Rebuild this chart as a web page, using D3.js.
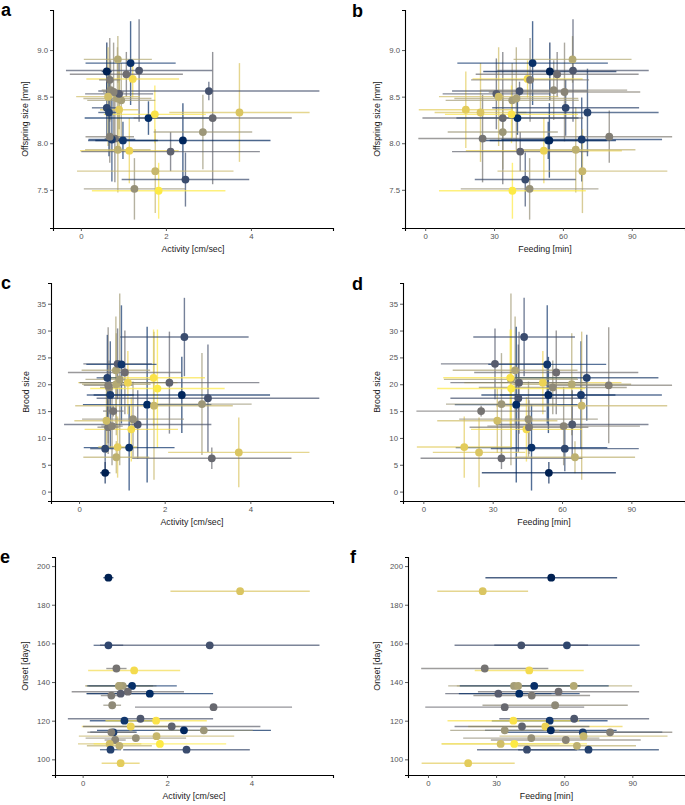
<!DOCTYPE html>
<html>
<head>
<meta charset="utf-8">
<script src="https://cdn.jsdelivr.net/npm/d3@7"></script>
<style>
  body { margin: 0; background: #fff; }
  svg { display: block; font-family: "Liberation Sans", Arial, Helvetica, sans-serif; }
</style>
</head>
<body>
<svg id="chart" width="685" height="805"></svg>
<script>
// ---- data: one entry per individual ----
const onset      = [194,187,159,159,147,146,138,138,138,138,135,134,134,133,128,127,121,120,120,117,117,115,115,114,114,112,111,110,108,108,107,105,105,98];
const activity   = [0.61,3.73,0.61,3.01,0.80,1.22,0.87,0.95,0.86,1.17,1.07,0.90,1.59,0.68,0.70,3.10,1.37,0.99,1.74,1.14,2.11,2.40,2.87,0.73,0.68,1.75,1.26,0.77,0.64,1.83,0.87,0.66,2.46,0.90];
const activitySd = [0.12,1.65,0.35,2.60,0.24,1.09,0.80,0.80,0.80,1.06,1.33,0.80,1.50,0.25,0.21,1.86,1.72,0.82,1.20,1.16,2.10,2.06,1.16,0.55,0.57,1.84,1.19,0.25,0.75,1.57,0.77,0.25,1.50,0.45];
const feeding    = [54.3,24.1,61.2,41.1,25.0,44.6,64.2,37.9,39.7,46.8,57.5,31.0,40.2,45.7,56.0,33.8,64.4,53.6,37.6,51.7,41.4,54.1,33.8,68.2,80.2,68.5,45.5,60.7,32.0,38.0,65.6,70.7,43.6,17.7];
const feedingSd  = [29,20,32,29.4,28,24,25.7,29,27,32.8,35.5,23.4,26.6,25.7,32,35,33,25.5,29,34,29.7,29,24,35,27.4,37,30,33,26,32,26,31,22,20.5];
const offspring  = [8.77,8.33,8.38,8.56,8.05,8.69,8.90,8.46,8.48,8.86,8.74,8.53,8.27,8.68,8.57,8.27,8.78,8.03,8.31,7.92,7.91,8.03,8.12,8.04,8.07,7.70,7.51,8.55,8.50,7.49,7.93,8.33,7.61,8.36];
const offspringSd= [0.31,0.53,0.30,0.10,0.47,0.20,0.25,0.40,0.55,0.45,0.24,0.38,0.18,0.45,0.32,0.71,0.55,0.20,0.31,0.35,0.21,0.40,0.40,0.45,0.28,0.45,0.33,0.53,0.53,0.30,0.46,0.47,0.29,0.41];
const brood      = [3.5,7.3,8.0,17.4,15.0,11.6,20.0,20.9,22.6,8.2,22.2,23.8,16.2,12.0,19.4,6.2,12.5,23.7,21.2,20.3,20.3,18.0,16.3,18.0,19.8,16.0,13.5,12.2,13.2,19.2,6.4,21.2,28.8,8.3];
const broodSd    = [2.0,6.5,4.2,10,1.0,6,9.5,16,10,8,7.8,6.6,14.5,5,5,2,6.4,11,9,5.9,9.5,7.1,9.5,10,10.8,13.8,7,7.3,6,11,3,8,7.3,5.7];
const colourRank = [0,28,7,9,15,31,24,22,23,3,14,11,2,16,19,13,10,4,32,30,12,1,21,5,17,26,20,18,27,33,25,6,8,29];

// tick values
const activityTicks = [0, 2, 4];
const feedingTicks = [0, 30, 60, 90];
const offspringTicks = [7.5, 8.0, 8.5, 9.0];
const broodTicks = [0, 5, 10, 15, 20, 25, 30, 35];
const onsetTicks = [100, 120, 140, 160, 180, 200];

// ---- build records ----
const rows = onset.map((o, i) => ({
  onset: o,
  activity: activity[i], activitySd: activitySd[i],
  feeding: feeding[i], feedingSd: feedingSd[i],
  offspring: offspring[i], offspringSd: offspringSd[i],
  brood: brood[i], broodSd: broodSd[i],
  rank: colourRank[i]
}));
const maxRank = d3.max(colourRank);
const colour = r => d3.interpolateCividis(r / maxRank);

const vars = {
  activity: { domain: [-0.655, 5.93], ticks: activityTicks, fmt: d3.format("d"), title: "Activity [cm/sec]" },
  feeding: { domain: [-8.8, 113.2], ticks: feedingTicks, fmt: d3.format("d"), title: "Feeding [min]" },
  offspring: { domain: [7.09, 9.43], ticks: offspringTicks, fmt: d3.format(".1f"), title: "Offspring size [mm]" },
  brood: { domain: [-1.75, 38.86], ticks: broodTicks, fmt: d3.format("d"), title: "Brood size" },
  onset: { domain: [91.9, 204.7], ticks: onsetTicks, fmt: d3.format("d"), title: "Onset [days]" }
};

const panels = [
  { tag: "a", x: "activity", y: "offspring", l: 53, t: 10, r: 333, b: 228, tagX: 1, tagY: 16, ytX: 26 },
  { tag: "b", x: "feeding", y: "offspring", l: 405, t: 10, r: 685, b: 228, tagX: 352, tagY: 17, ytX: 378 },
  { tag: "c", x: "activity", y: "brood", l: 51, t: 283, r: 333, b: 501, tagX: 1, tagY: 289, ytX: 26.5 },
  { tag: "d", x: "feeding", y: "brood", l: 403, t: 283, r: 685, b: 501, tagX: 352, tagY: 290, ytX: 378 },
  { tag: "e", x: "activity", y: "onset", l: 55, t: 557, r: 333, b: 775, tagX: 0, tagY: 563, ytX: 26, noYerr: true },
  { tag: "f", x: "feeding", y: "onset", l: 408, t: 557, r: 685, b: 775, tagX: 350, tagY: 563, ytX: 378, noYerr: true }
];

const svg = d3.select("#chart");

panels.forEach(p => {
  const xv = vars[p.x], yv = vars[p.y];
  const x = d3.scaleLinear().domain(xv.domain).range([p.l, p.r]);
  const y = d3.scaleLinear().domain(yv.domain).range([p.b, p.t]);
  const g = svg.append("g");

  // axes
  const xAxis = d3.axisBottom(x).tickValues(xv.ticks).tickFormat(xv.fmt).tickSize(3).tickPadding(2);
  const yAxis = d3.axisLeft(y).tickValues(yv.ticks).tickFormat(yv.fmt).tickSize(3).tickPadding(2);
  const gx = g.append("g").attr("transform", `translate(0,${p.b})`).call(xAxis);
  const gy = g.append("g").attr("transform", `translate(${p.l},0)`).call(yAxis);
  [gx, gy].forEach(ax => {
    ax.select(".domain").attr("stroke", "#000").attr("stroke-width", 1.1);
    ax.selectAll(".tick line").attr("stroke", "#333").attr("stroke-width", 0.8);
    ax.selectAll(".tick text").attr("fill", "#555").attr("font-size", 7.8).attr("font-family", "Liberation Sans, Arial, sans-serif");
  });

  // error bars
  const data = rows;
  if (!p.noYerr) {
    g.append("g").selectAll("line").data(data).join("line")
      .attr("x1", d => x(d[p.x])).attr("x2", d => x(d[p.x]))
      .attr("y1", d => y(d[p.y] - d[p.y + "Sd"])).attr("y2", d => y(d[p.y] + d[p.y + "Sd"]))
      .attr("stroke", d => colour(d.rank)).attr("stroke-width", 1.4).attr("stroke-opacity", 0.7);
  }
  g.append("g").selectAll("line").data(data).join("line")
    .attr("y1", d => y(d[p.y])).attr("y2", d => y(d[p.y]))
    .attr("x1", d => x(d[p.x] - d[p.x + "Sd"])).attr("x2", d => x(d[p.x] + d[p.x + "Sd"]))
    .attr("stroke", d => colour(d.rank)).attr("stroke-width", 1.4).attr("stroke-opacity", 0.7);

  // points
  g.append("g").selectAll("circle").data(data).join("circle")
    .attr("cx", d => x(d[p.x])).attr("cy", d => y(d[p.y])).attr("r", 3.9)
    .attr("fill", d => colour(d.rank));

  // titles
  g.append("text").attr("x", (p.l + p.r) / 2).attr("y", p.b + 24)
    .attr("text-anchor", "middle").attr("font-size", 8.8).attr("fill", "#1a1a1a").text(xv.title);
  g.append("text").attr("transform", `translate(${p.ytX},${(p.t + p.b) / 2}) rotate(-90)`)
    .attr("text-anchor", "middle").attr("dominant-baseline", "middle").attr("font-size", 8.8).attr("fill", "#1a1a1a").text(yv.title);
  g.append("text").attr("x", p.tagX).attr("y", p.tagY).attr("font-size", 18).attr("font-weight", "bold").attr("fill", "#000").text(p.tag);
});
</script>
</body>
</html>
